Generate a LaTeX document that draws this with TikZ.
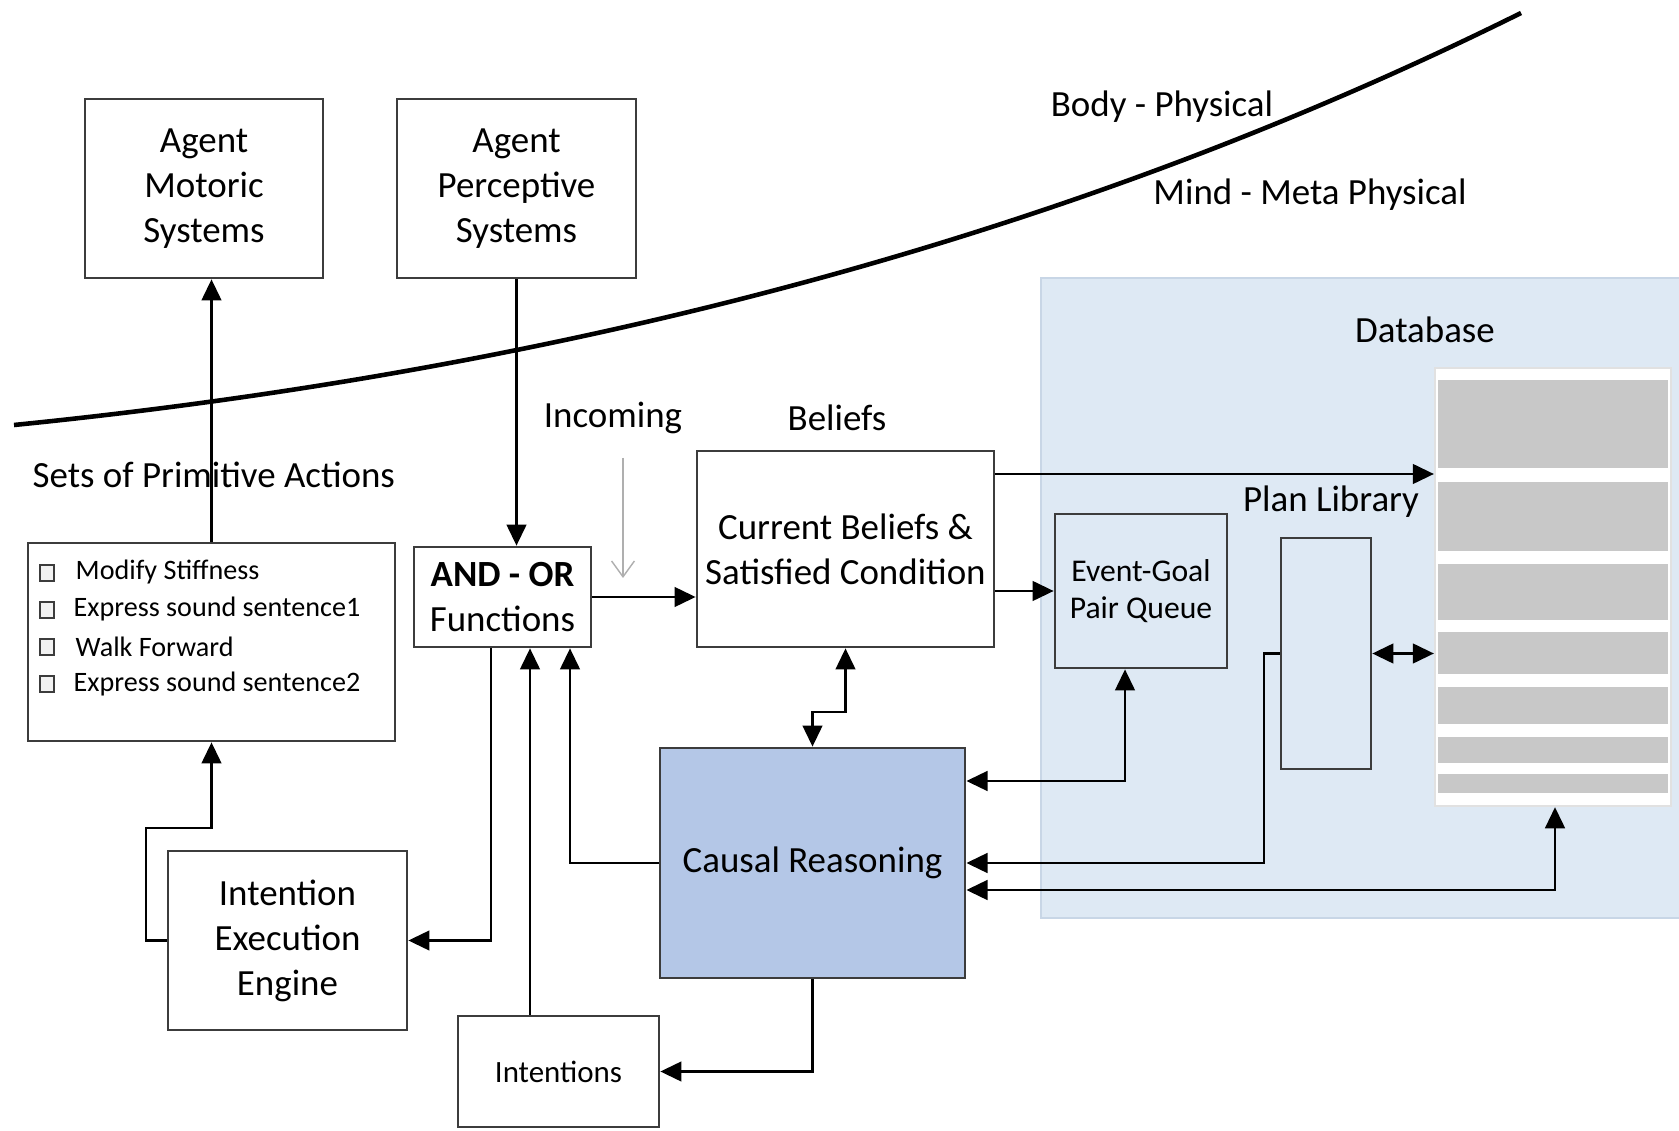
\documentclass[tikz,border=0pt]{standalone}
\usepackage{fontspec}
\setmainfont{Carlito}
\usetikzlibrary{arrows.meta,calc}
\definecolor{dbbg}{RGB}{222,233,244}
\definecolor{dbedge}{RGB}{200,214,230}
\definecolor{crfill}{RGB}{180,199,231}
\definecolor{barfill}{RGB}{200,200,200}
\definecolor{boxedge}{RGB}{60,60,60}
\definecolor{panedge}{RGB}{225,225,225}
\definecolor{incol}{RGB}{175,175,175}
\begin{document}
\begin{tikzpicture}[x=0.01cm,y=-0.01cm,
  box/.style={draw=boxedge,line width=0.75pt,fill=white,align=center,inner sep=0pt,
    font=\fontsize{10.5}{12.8}\selectfont},
  arr/.style={line width=0.7pt,-{Triangle[length=6pt,width=5.6pt]}},
  darr/.style={line width=0.7pt,{Triangle[length=6pt,width=5.6pt]}-{Triangle[length=6pt,width=5.6pt]}},
  lbl/.style={font=\fontsize{10.5}{12.8}\selectfont,inner sep=0pt},
  item/.style={font=\fontsize{8}{9.6}\selectfont,inner sep=0pt,anchor=west},
  chk/.style={draw=boxedge,fill=gray!10,line width=0.5pt,minimum width=0.14cm,minimum height=0.16cm,inner sep=0pt},
  barstyle/.style={fill=barfill},
]
\useasboundingbox (0,0) rectangle (1679,1131);
\fill[white] (0,0) rectangle (1679,1131);

% database background
\filldraw[fill=dbbg,draw=dbedge,line width=0.6pt] (1041,278) rectangle (1681,918);
\node[lbl] (dblabel) at (1425,330) {Database};
\node[draw=panedge,fill=white,line width=0.6pt,minimum width=2.36cm,minimum height=4.38cm,inner sep=0pt] (panel) at (1553,587) {};
\fill[barstyle] (1438,380) rectangle (1668,468);
\fill[barstyle] (1438,482) rectangle (1668,551);
\fill[barstyle] (1438,564) rectangle (1668,620);
\fill[barstyle] (1438,632) rectangle (1668,674);
\fill[barstyle] (1438,687) rectangle (1668,724);
\fill[barstyle] (1438,737) rectangle (1668,763);
\fill[barstyle] (1438,774) rectangle (1668,793);
\node[lbl] (pllabel) at (1331,502) {Plan Library};

% boundary curve
\coordinate (cvA) at (14,425);
\coordinate (cvB) at (1521,13);
\draw[line width=1.3pt] (cvA) .. controls (582,368) and (1084,230) .. (cvB);
\node[lbl] (body) at (1162,107) {Body - Physical};
\node[lbl] (mind) at (1310,195) {Mind - Meta Physical};

% boxes
\node[box,minimum width=2.38cm,minimum height=1.79cm] (mot) at (204,188.5) {Agent\\Motoric\\Systems};
\node[box,minimum width=2.39cm,minimum height=1.79cm] (per) at (516.5,188.5) {Agent\\Perceptive\\Systems};
\node[box,minimum width=3.67cm,minimum height=1.98cm] (list) at (211.5,642) {};
\node[box,minimum width=1.77cm,minimum height=1.00cm] (andor) at (502.5,597) {\textbf{AND - OR}\\Functions};
\node[box,minimum width=2.97cm,minimum height=1.96cm] (cb) at (845.5,549) {Current Beliefs \&\\Satisfied Condition};
\node[box,fill=dbbg,minimum width=1.72cm,minimum height=1.54cm,font=\fontsize{9}{10.5}\selectfont] (eg) at (1141,591) {Event-Goal\\Pair Queue};
\node[box,fill=dbbg,minimum width=0.90cm,minimum height=2.31cm] (pl) at (1326,653.5) {};
\node[box,fill=crfill,minimum width=3.05cm,minimum height=2.30cm] (cr) at (812.5,863) {Causal Reasoning};
\node[box,minimum width=2.39cm,minimum height=1.79cm] (iee) at (287.5,940.5) {Intention\\Execution\\Engine};
\node[box,minimum width=2.01cm,minimum height=1.11cm,font=\fontsize{8.8}{10.5}\selectfont] (int) at (558.5,1071.5) {Intentions};

% labels
\node[lbl,anchor=west] (sets) at (32,475) {Sets of Primitive Actions};
\node[lbl] (incoming) at (613,418) {Incoming};
\node[lbl] (beliefs) at (837,418) {Beliefs};

% list items
\node[chk] (c1) at (47,573) {};
\node[chk] (c2) at (47,610) {};
\node[chk] (c3) at (47,647) {};
\node[chk] (c4) at (47,684) {};
\node[item] (i1) at (75,572) {Modify Stiffness};
\node[item] (i2) at (73,609) {Express sound sentence1};
\node[item] (i3) at (75,647) {Walk Forward};
\node[item] (i4) at (73,684) {Express sound sentence2};

% incoming gray arrow
\coordinate (inA) at (623,458);
\coordinate (inB) at (623,578);
\draw[incol,line width=0.4pt,-{Straight Barb[length=4.5pt,width=6.5pt]}] (inA) -- (inB);

% connectors
\draw[arr] (list.north) -- (list.north |- mot.south);
\draw[arr] (per.south) -- (per.south |- andor.north);
\draw[arr] (andor.east) -- (andor.east -| cb.west);
\draw[arr] (cb.east |- 0,474) -- (panel.west |- 0,474);
\draw[arr] (eg.west -| cb.east) -- (eg.west);
\draw[darr] (pl.east) -- (pl.east -| panel.west);
\draw[darr] (cb.south) -- (cb.south |- 0,712) -| (cr.north);
\draw[darr] (cr.east |- 0,781) -| (eg.south -| 1125,0);
\draw[arr] (pl.west) -| (1264,863) -- (cr.east);
\draw[darr] (cr.east |- 0,890) -| (panel.south -| 1555,0);
\draw[arr] (cr.south) |- (int.east);
\draw[arr] (cr.west) -| (andor.south -| 570,0);
\draw[arr] (int.north -| 530,0) -- (andor.south -| 530,0);
\draw[arr] (andor.south -| 491,0) |- (iee.east);
\draw[arr] (iee.west) -| (146,828) -| (list.south);
\end{tikzpicture}
\end{document}
